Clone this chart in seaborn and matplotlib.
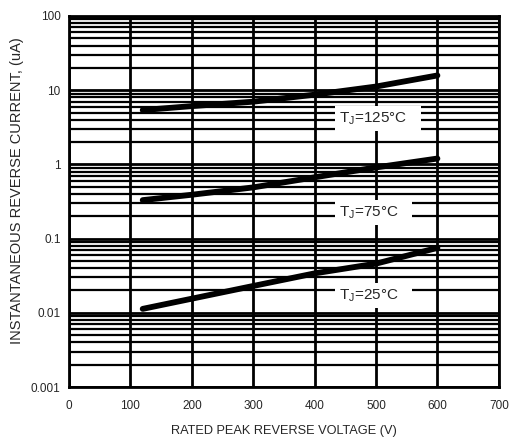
import numpy as np
import pandas as pd
import seaborn as sns
import matplotlib.pyplot as plt
from matplotlib.ticker import LogLocator, FixedLocator

# valores (V, uA)
voltaje = [120, 200, 300, 400, 500, 600]
corriente_125 = [5.4, 6.1, 7.0, 8.7, 11.2, 15.8]
corriente_75 = [0.33, 0.39, 0.49, 0.67, 0.91, 1.2]
corriente_25 = [0.0113, 0.0155, 0.023, 0.034, 0.046, 0.075]
etiquetas = ["125°C", "75°C", "25°C"]

df = pd.DataFrame({
    "voltaje": voltaje * 3,
    "corriente": corriente_125 + corriente_75 + corriente_25,
    "tj": [etiquetas[0]] * 6 + [etiquetas[1]] * 6 + [etiquetas[2]] * 6,
})

sns.set_style("white")
plt.rcParams["font.family"] = ["Liberation Sans", "DejaVu Sans"]

fig = plt.figure(figsize=(5.09, 4.38), dpi=100)
ax = fig.add_axes([0.1356, 0.1164, 0.8444, 0.8471])

ax.set_yscale("log")
ax.set_xlim(0, 700)
ax.set_ylim(0.001, 100)

# rejilla
ax.xaxis.set_major_locator(FixedLocator(range(0, 701, 100)))
ax.yaxis.set_minor_locator(LogLocator(base=10, subs=np.arange(2, 10), numticks=20))
ax.grid(True, which="major", color="black", linewidth=2.0)
ax.grid(True, which="minor", axis="y", color="black", linewidth=1.6)
ax.set_axisbelow(True)

sns.lineplot(data=df, x="voltaje", y="corriente", hue="tj",
             palette=["black"] * 3, linewidth=4.2, legend=False, ax=ax,
             solid_capstyle="round")

ax.set_yticks([0.001, 0.01, 0.1, 1, 10, 100])
ax.set_yticklabels(["0.001", "0.01", "0.1", "1", "10", "100"])
ax.tick_params(axis="both", which="both", length=0, labelsize=8.5, pad=6)
ax.tick_params(axis="x", pad=9)

for s in ax.spines.values():
    s.set_color("black")
    s.set_linewidth(2)

# etiquetas de temperatura
for temp, yv in zip(etiquetas, [4.2, 0.226, 0.017]):
    ax.text(440, yv, r"T$_\mathregular{J}$=" + temp + "   ", fontsize=11,
            ha="left", va="center",
            bbox=dict(facecolor="white", edgecolor="none", pad=3))

ax.set_xlabel("RATED PEAK REVERSE VOLTAGE (V)", fontsize=9.2, labelpad=10)
ax.set_ylabel("INSTANTANEOUS REVERSE CURRENT, (uA)", fontsize=10.5)
ax.yaxis.set_label_coords(-0.104, 0.528)

fig.savefig("out.png", dpi=100)
